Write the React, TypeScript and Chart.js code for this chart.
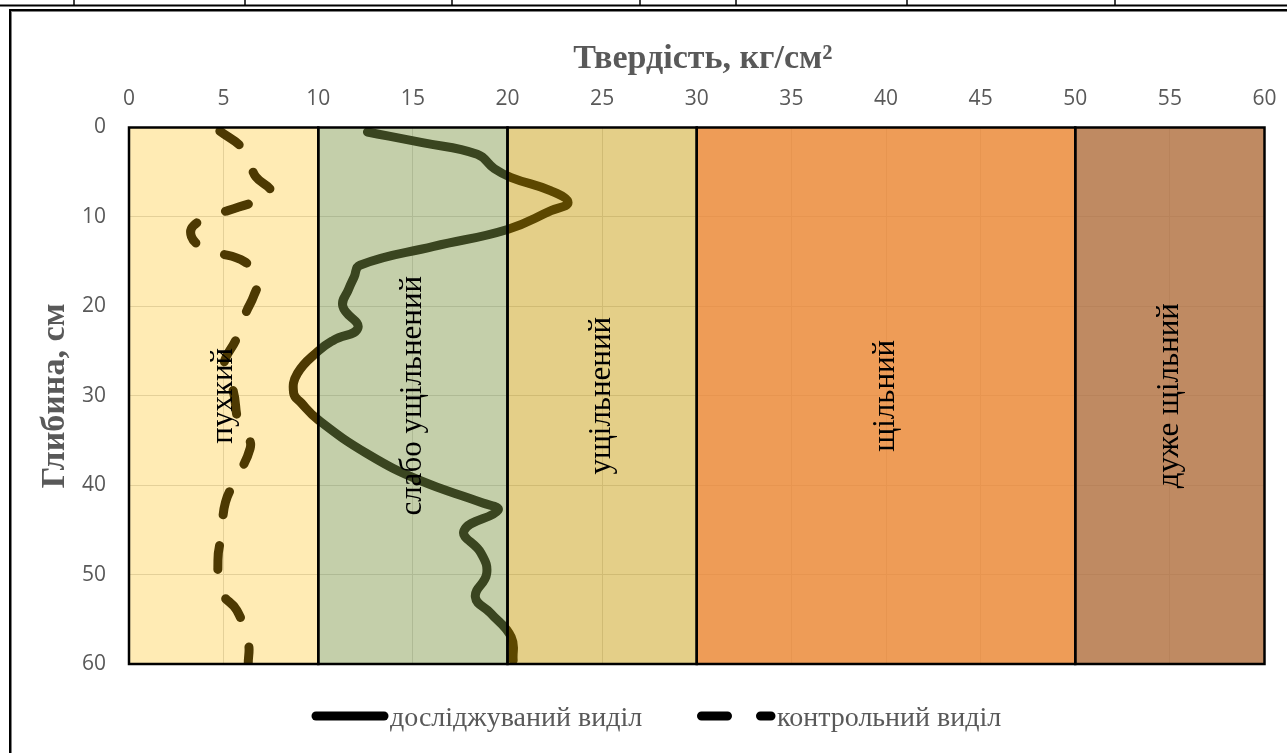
import React, { useEffect, useRef } from "react";
import { Chart, registerables } from "chart.js";

Chart.register(...registerables);

// ---- data ----
const solidDepth = [0.5, 1.7, 3.0, 4.6, 5.6, 7.1, 8.4, 9.3, 11.4, 13.3, 15.4, 16.7, 18.1, 20.0, 22.4, 23.8, 25.0, 27.5, 29.7, 30.8, 32.7, 36.5, 39.5, 42.0, 42.8, 45.1, 47.6, 49.9, 52.5, 54.3, 57.0, 59.6];
const solidHard = [12.6, 15.5, 18.4, 19.3, 20.2, 22.3, 23.2, 22.3, 20.0, 16.1, 12.2, 11.9, 11.6, 11.3, 12.1, 10.8, 10.0, 8.9, 8.7, 9.1, 10.0, 12.6, 15.4, 18.7, 19.5, 17.7, 18.6, 18.9, 18.3, 19.1, 20.2, 20.3];

const dashDepth = [0.4, 2.3, 4.0, 5.5, 7.0, 7.7, 8.9, 9.9, 11.0, 12.2, 13.3, 13.9, 15.0, 17.0, 18.8, 20.6, 23.5, 26.8, 29.4, 33.0, 34.6, 35.9, 39.2, 41.9, 45.4, 48.4, 52.0, 54.0, 57.6, 60.0];
const dashHard = [4.8, 6.0, 6.4, 6.7, 7.5, 7.4, 5.8, 4.4, 3.4, 3.3, 3.8, 4.5, 6.1, 6.8, 6.6, 6.2, 5.7, 5.0, 5.5, 5.8, 6.3, 6.4, 5.7, 5.1, 4.9, 4.7, 4.9, 5.7, 6.3, 6.3];

const seriesNames = ["досліджуваний виділ", "контрольний виділ"];

const bandStart = [0, 10, 20, 30, 50];
const bandEnd = [10, 20, 30, 50, 60];
const bandLabels = ["пухкий", "слабо ущільнений", "ущільнений", "щільний", "дуже щільний"];
const bandFill = [
  "rgba(255,188,8,0.30)",
  "rgba(126,150,70,0.46)",
  "rgba(198,153,0,0.465)",
  "rgba(234,131,45,0.80)",
  "rgba(175,109,59,0.80)",
];

const xTitle = "Твердість, кг/см²";
const yTitle = "Глибина, см";
const topRowLines = [74, 245, 452, 640, 736, 907, 1115];

const W = 1287;
const H = 753;

const bandsPlugin = {
  id: "bands",
  afterDatasetsDraw(chart: any) {
    const ctx = chart.ctx;
    const xs = chart.scales.x;
    const ys = chart.scales.y;
    const top = ys.getPixelForValue(0);
    const bottom = ys.getPixelForValue(60);
    ctx.save();
    for (let i = 0; i < bandStart.length; i++) {
      const l = xs.getPixelForValue(bandStart[i]);
      const r = xs.getPixelForValue(bandEnd[i]);
      ctx.fillStyle = bandFill[i];
      ctx.fillRect(l, top, r - l, bottom - top);
    }
    ctx.strokeStyle = "#000";
    ctx.lineWidth = 2.5;
    for (let i = 0; i < bandStart.length; i++) {
      const l = xs.getPixelForValue(bandStart[i]);
      const r = xs.getPixelForValue(bandEnd[i]);
      ctx.strokeRect(l, top, r - l, bottom - top);
    }
    ctx.fillStyle = "#000";
    ctx.font = '31px "Liberation Serif"';
    ctx.textAlign = "center";
    ctx.textBaseline = "middle";
    for (let i = 0; i < bandStart.length; i++) {
      const cx = xs.getPixelForValue((bandStart[i] + bandEnd[i]) / 2);
      const cy = (top + bottom) / 2;
      ctx.save();
      ctx.translate(cx, cy);
      ctx.rotate(-Math.PI / 2);
      ctx.fillText(bandLabels[i], 0, 0);
      ctx.restore();
    }
    ctx.restore();
  },
  afterDraw(chart: any) {
    const ctx = chart.ctx;
    ctx.save();
    // top table row remnants
    ctx.strokeStyle = "#000";
    ctx.lineWidth = 2;
    ctx.beginPath();
    ctx.moveTo(0, 5.5);
    ctx.lineTo(W, 5.5);
    ctx.stroke();
    ctx.lineWidth = 1.5;
    for (const x of topRowLines) {
      ctx.beginPath();
      ctx.moveTo(x, 0);
      ctx.lineTo(x, 5);
      ctx.stroke();
    }
    // outer frame
    ctx.strokeStyle = "#808080";
    ctx.lineWidth = 1;
    ctx.strokeRect(11.5, 11.5, W + 20, H + 20);
    ctx.strokeStyle = "#000";
    ctx.lineWidth = 2;
    ctx.strokeRect(10, 10, W + 20, H + 20);

    // titles
    ctx.fillStyle = "#595959";
    ctx.font = 'bold 34px "Liberation Serif"';
    ctx.textAlign = "center";
    ctx.textBaseline = "alphabetic";
    const ca = chart.chartArea;
    ctx.fillText(xTitle, (ca.left + ca.right) / 2 + 6, 68);
    ctx.save();
    ctx.translate(63.5, (ca.top + ca.bottom) / 2);
    ctx.rotate(-Math.PI / 2);
    ctx.fillText(yTitle, 0, 0);
    ctx.restore();

    // legend
    const ly = 716;
    ctx.lineCap = "round";
    ctx.lineWidth = 9;
    ctx.strokeStyle = "#000";
    ctx.setLineDash([]);
    ctx.beginPath();
    ctx.moveTo(316, ly);
    ctx.lineTo(384, ly);
    ctx.stroke();
    ctx.setLineDash([26, 33]);
    ctx.beginPath();
    ctx.moveTo(701.5, ly);
    ctx.lineTo(771, ly);
    ctx.stroke();
    ctx.setLineDash([]);
    ctx.fillStyle = "#595959";
    ctx.font = '28px "Liberation Serif"';
    ctx.textAlign = "left";
    ctx.textBaseline = "middle";
    ctx.fillText(seriesNames[0], 390, 719);
    ctx.fillText(seriesNames[1], 777, 719);
    ctx.restore();
  },
};

export default function App() {
  const ref = useRef<HTMLCanvasElement | null>(null);
  useEffect(() => {
    if (!ref.current) return;
    const chart = new Chart(ref.current, {
      type: "scatter",
      data: {
        datasets: [
          {
            label: seriesNames[0],
            data: solidDepth.map((d, i) => ({ x: solidHard[i], y: d })),
            showLine: true,
            borderColor: "#000",
            backgroundColor: "#000",
            borderWidth: 9,
            borderCapStyle: "round",
            borderJoinStyle: "round",
            tension: 0.45,
            pointRadius: 0,
          },
          {
            label: seriesNames[1],
            data: dashDepth.map((d, i) => ({ x: dashHard[i], y: d })),
            showLine: true,
            borderColor: "#000",
            backgroundColor: "#000",
            borderWidth: 9,
            borderCapStyle: "round",
            borderJoinStyle: "round",
            borderDash: [24, 31],
            tension: 0.45,
            pointRadius: 0,
          },
        ],
      },
      options: {
        animation: false,
        responsive: false,
        events: [],
        layout: { padding: { left: 0, top: 0, right: 22.5, bottom: 89 } },
        plugins: { legend: { display: false }, title: { display: false }, tooltip: { enabled: false } },
        scales: {
          x: {
            type: "linear",
            position: "top",
            min: 0,
            max: 60,
            afterFit: (s: any) => {
              s.height = 127.5;
              s.paddingLeft = 0;
              s.paddingRight = 0;
            },
            ticks: {
              stepSize: 5,
              color: "#595959",
              font: { family: "Open Sans", size: 21 },
              padding: 16,
              maxRotation: 0,
            },
            grid: { color: "#D9D9D9", lineWidth: 1, drawTicks: false },
            border: { display: false },
          },
          y: {
            type: "linear",
            reverse: true,
            min: 0,
            max: 60,
            afterFit: (s: any) => {
              s.width = 129;
              s.paddingTop = 0;
              s.paddingBottom = 0;
            },
            ticks: {
              stepSize: 10,
              color: "#595959",
              font: { family: "Open Sans", size: 21 },
              padding: 23,
            },
            grid: { color: "#D9D9D9", lineWidth: 1, drawTicks: false },
            border: { display: false },
          },
        },
      },
      plugins: [bandsPlugin],
    } as any);
    return () => chart.destroy();
  }, []);
  return (
    <div style={{ position: "absolute", left: 0, top: 0, width: W, height: H, background: "#fff" }}>
      <canvas ref={ref} width={W} height={H} style={{ display: "block", width: W, height: H }} />
    </div>
  );
}
